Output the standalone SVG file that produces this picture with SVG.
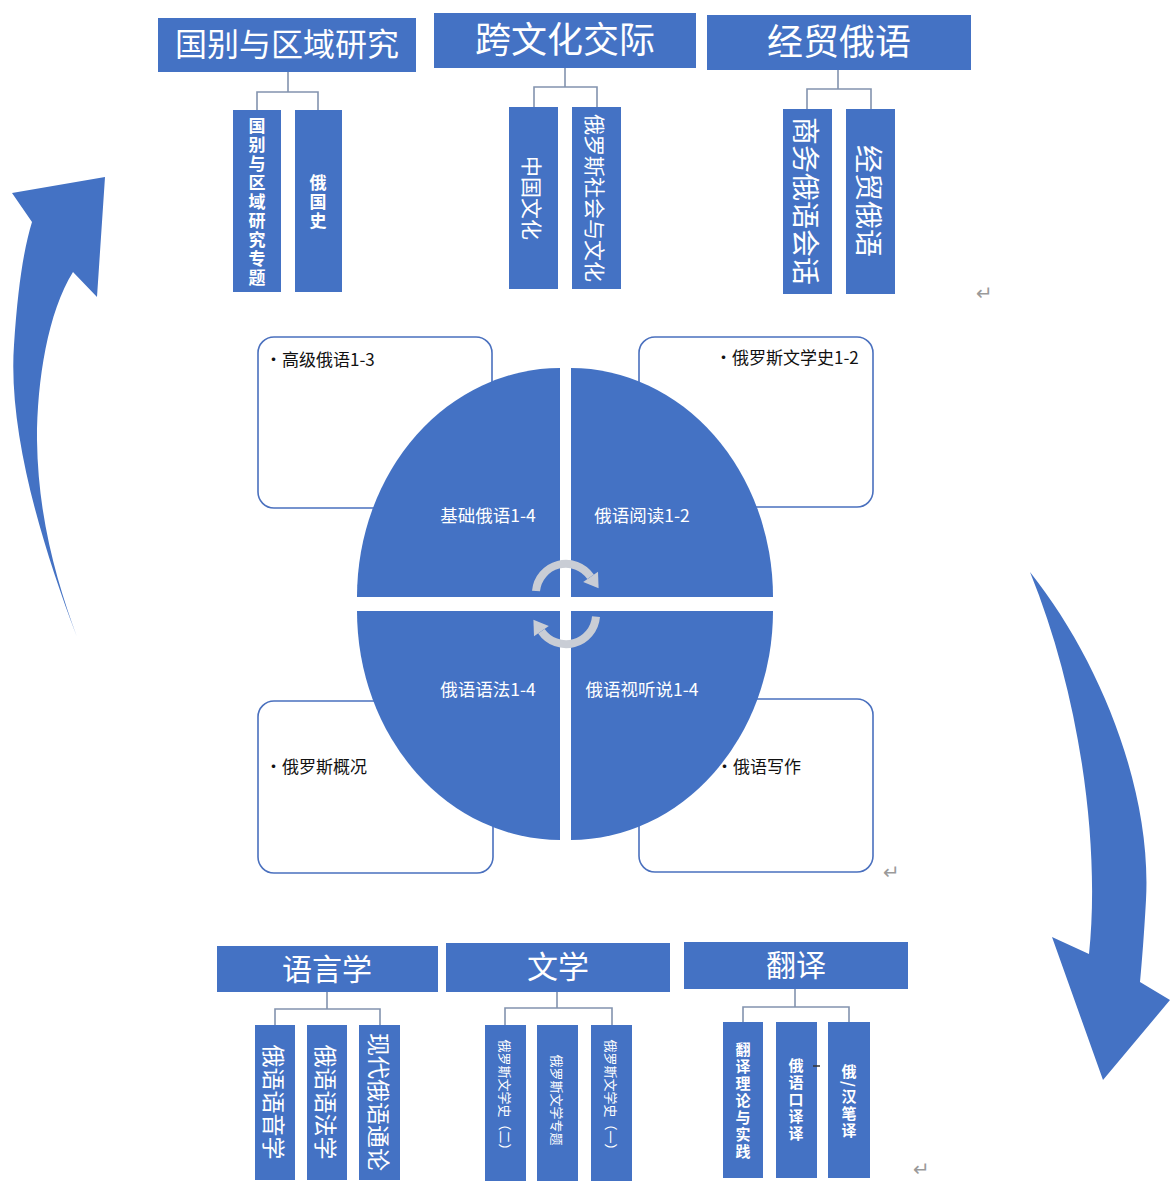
<svg xmlns="http://www.w3.org/2000/svg" width="1170" height="1186" viewBox="0 0 1170 1186">
<style>
.hdr{fill:#4472C4}
.ch{fill:#4472C4}
.ht{fill:#fff;font-family:"Noto Sans CJK SC","Noto Sans",sans-serif;text-anchor:middle}
.ct{fill:#fff;font-family:"Noto Sans CJK SC","Noto Sans",sans-serif;text-anchor:middle;dominant-baseline:central}
.vt{fill:#fff;font-family:"Noto Sans CJK SC","Noto Sans",sans-serif;text-anchor:middle;writing-mode:vertical-rl;font-weight:bold}
.conn{fill:none;stroke:#8393AE;stroke-width:1.6}
.box{fill:#fff;stroke:#4A70BE;stroke-width:1.6}
.bt{fill:#111;font-family:"Noto Sans CJK SC","Noto Sans",sans-serif;font-size:17px}
.qt{fill:#fff;font-family:"Noto Sans CJK SC","Noto Sans",sans-serif;font-size:17.5px;text-anchor:middle}
.ret{fill:#9a9a9a;font-family:"DejaVu Sans",sans-serif;font-size:20px}
.big{fill:#4472C4}
.cyc{fill:none;stroke:#C9CDD5;stroke-width:8}
.cyh{fill:#C9CDD5}
</style>

<g id="big-arrows">
<path class="big" d="M77,637 C40,540 8,430 14,345 C18,285 24,248 32,222 L12,193 L105,177 L97,297 L73,272 C48,312 37,380 37,440 C38,520 58,585 77,637 Z"/>
<path class="big" d="M1030,572 C1100,660 1152,790 1146,900 C1144,935 1142,960 1140,982 L1170,1000 L1103,1080 L1052,937 L1089,954 C1100,850 1082,700 1030,572 Z"/>
</g>

<g id="connectors">
<path class="conn" d="M288,72 V92 M257,110 V92 H318 V110"/>
<path class="conn" d="M565,68 V87 M534,107 V87 H597 V107"/>
<path class="conn" d="M838,70 V89 M807,109 V89 H871 V109"/>
<path class="conn" d="M327,992 V1009 M275,1025 V1009 H380 V1025"/>
<path class="conn" d="M557,992 V1008 M505,1025 V1008 H612 V1025"/>
<path class="conn" d="M795,989 V1007 M743,1022 V1007 H849 V1022"/>
</g>

<g id="group-area">
<rect class="hdr" x="158" y="18" width="258" height="54"/>
<text class="ht" x="287" y="56" font-size="32">国别与区域研究</text>
<g id="area-1"><rect class="ch" x="233" y="110" width="48" height="182"/><text class="vt" x="257" y="203" font-size="17" letter-spacing="2">国别与区域研究专题</text></g>
<g id="area-2"><rect class="ch" x="295" y="110" width="47" height="182"/><text class="vt" x="318" y="203" font-size="17" letter-spacing="2">俄国史</text></g>
</g>

<g id="group-cross">
<rect class="hdr" x="434" y="13" width="262" height="55"/>
<text class="ht" x="565" y="53" font-size="36">跨文化交际</text>
<g id="cross-1"><rect class="ch" x="509" y="107" width="49" height="182"/><text class="ct" transform="translate(533,198) rotate(90)" font-size="21">中国文化</text></g>
<g id="cross-2"><rect class="ch" x="572" y="107" width="49" height="182"/><text class="ct" transform="translate(596,198) rotate(90)" font-size="21">俄罗斯社会与文化</text></g>
</g>

<g id="group-trade">
<rect class="hdr" x="707" y="15" width="264" height="55"/>
<text class="ht" x="839" y="55" font-size="36">经贸俄语</text>
<g id="trade-1"><rect class="ch" x="783" y="109" width="49" height="185"/><text class="ct" transform="translate(807,201) rotate(90)" font-size="28">商务俄语会话</text></g>
<g id="trade-2"><rect class="ch" x="846" y="109" width="49" height="185"/><text class="ct" transform="translate(870,201) rotate(90)" font-size="28">经贸俄语</text></g>
</g>

<g id="group-ling">
<rect class="hdr" x="217" y="946" width="221" height="46"/>
<text class="ht" x="327" y="980" font-size="30">语言学</text>
<g id="ling-1"><rect class="ch" x="255" y="1025" width="40" height="155"/><text class="ct" transform="translate(275,1102) rotate(90)" font-size="23">俄语语音学</text></g>
<g id="ling-2"><rect class="ch" x="307" y="1025" width="40" height="155"/><text class="ct" transform="translate(327,1102) rotate(90)" font-size="23">俄语语法学</text></g>
<g id="ling-3"><rect class="ch" x="359" y="1025" width="41" height="155"/><text class="ct" transform="translate(380,1102) rotate(90)" font-size="23">现代俄语通论</text></g>
</g>

<g id="group-lit">
<rect class="hdr" x="446" y="943" width="224" height="49"/>
<text class="ht" x="558" y="978" font-size="31">文学</text>
<g id="lit-1"><rect class="ch" x="485" y="1025" width="41" height="156"/><text class="ct" transform="translate(505,1098) rotate(90)" font-size="13">俄罗斯文学史（二）</text></g>
<g id="lit-2"><rect class="ch" x="537" y="1025" width="41" height="156"/><text class="ct" transform="translate(557,1100) rotate(90)" font-size="13">俄罗斯文学专题</text></g>
<g id="lit-3"><rect class="ch" x="591" y="1025" width="41" height="156"/><text class="ct" transform="translate(611,1098) rotate(90)" font-size="13">俄罗斯文学史（一）</text></g>
</g>

<g id="group-trans">
<rect class="hdr" x="684" y="942" width="224" height="47"/>
<text class="ht" x="796" y="976" font-size="30">翻译</text>
<g id="trans-1"><rect class="ch" x="723" y="1022" width="40" height="156"/><text class="vt" x="743" y="1101" font-size="15" letter-spacing="2">翻译理论与实践</text></g>
<g id="trans-2"><rect class="ch" x="776" y="1022" width="41" height="156"/><text class="vt" x="796" y="1100" font-size="15" letter-spacing="2">俄语口译译</text><line x1="813" y1="1066" x2="820" y2="1066" stroke="#333" stroke-width="1.5"/></g>
<g id="trans-3"><rect class="ch" x="828" y="1022" width="42" height="156"/><text class="vt" x="849" y="1102" font-size="15" letter-spacing="2">俄/汉笔译</text></g>
</g>

<g id="side-boxes">
<g id="box-tl"><rect class="box" x="258" y="337" width="234" height="171" rx="16"/><text class="bt" x="265" y="366">•高级俄语1-3</text></g>
<g id="box-tr"><rect class="box" x="639" y="337" width="234" height="170" rx="16"/><text class="bt" x="715" y="364">•俄罗斯文学史1-2</text></g>
<g id="box-bl"><rect class="box" x="258" y="701" width="235" height="172" rx="16"/><text class="bt" x="265" y="773">•俄罗斯概况</text></g>
<g id="box-br"><rect class="box" x="639" y="699" width="234" height="173" rx="16"/></g>
</g>

<g id="quadrants">
<g id="q-tl"><path class="hdr" d="M560,597 L357,597 A203,229 0 0 1 560,368 Z"/><text class="qt" x="488" y="522">基础俄语1-4</text></g>
<g id="q-tr"><path class="hdr" d="M571,597 L571,368 A202,229 0 0 1 773,597 Z"/><text class="qt" x="642" y="522">俄语阅读1-2</text></g>
<g id="q-bl"><path class="hdr" d="M560,611 L560,840 A203,229 0 0 1 357,611 Z"/><text class="qt" x="488" y="696">俄语语法1-4</text></g>
<g id="q-br"><path class="hdr" d="M571,611 L773,611 A202,229 0 0 1 571,840 Z"/><text class="qt" x="642" y="696">俄语视听说1-4</text></g>
</g>
<text class="bt" x="716" y="773">•俄语写作</text>

<g id="cycle-arrows">
<path class="cyc" d="M536,591 A30,30 0 0 1 590.6,576.8"/>
<polygon class="cyh" points="598,571.7 583.2,582 598.6,588.3"/>
<path class="cyc" d="M596,616.6 A30,30 0 0 1 541.4,631.2"/>
<polygon class="cyh" points="534,636.3 548.8,626.1 533.4,619.7"/>
</g>

<g id="returns">
<text class="ret" x="976" y="300">↵</text>
<text class="ret" x="883" y="879">↵</text>
<text class="ret" x="913" y="1176">↵</text>
</g>
</svg>
